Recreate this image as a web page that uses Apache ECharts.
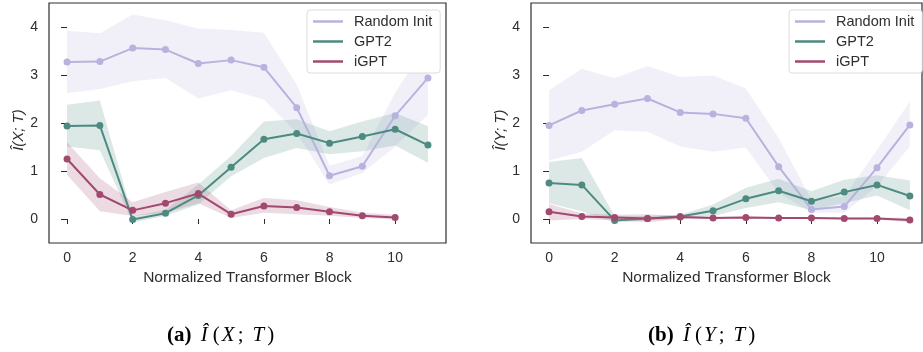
<!DOCTYPE html>
<html lang="en">
<head>
    <meta charset="UTF-8" />
    <title>Information plane per block</title>
    <script src="https://cdn.jsdelivr.net/npm/echarts@6.0.0/dist/echarts.min.js"></script>
    <style>
        body { margin: 0; background: #fff; }
        #chart { width: 923px; height: 352px; }
    </style>
</head>
<body>
    <div id="chart"></div>
    <script>
        // x positions (normalized transformer block)
        const blocks = [0, 1, 2, 3, 4, 5, 6, 7, 8, 9, 10, 11];
        const xTicks = [0, 2, 4, 6, 8, 10];
        const yTicks = [0, 1, 2, 3, 4];

        // (a) I(X;T)
        const xtRandom   = [3.27, 3.28, 3.56, 3.53, 3.24, 3.31, 3.16, 2.32, 0.90, 1.10, 2.15, 2.94];
        const xtRandomHi = [3.92, 3.87, 4.26, 4.14, 3.97, 3.94, 3.88, 2.80, 1.11, 1.31, 2.63, 3.70];
        const xtRandomLo = [2.62, 2.71, 2.87, 2.94, 2.51, 2.68, 2.49, 1.79, 0.72, 0.96, 1.51, 2.17];
        const xtGpt2     = [1.94, 1.95, -0.01, 0.12, 0.49, 1.08, 1.66, 1.78, 1.58, 1.72, 1.87, 1.54];
        const xtGpt2Hi   = [2.38, 2.47, 0.06, 0.19, 0.72, 1.31, 2.03, 2.08, 1.83, 2.03, 2.21, 1.93];
        const xtGpt2Lo   = [1.51, 1.43, -0.08, 0.07, 0.30, 0.89, 1.27, 1.48, 1.35, 1.41, 1.53, 1.17];
        const xtIgpt     = [1.25, 0.51, 0.18, 0.33, 0.53, 0.10, 0.27, 0.24, 0.15, 0.07, 0.03];
        const xtIgptHi   = [1.60, 0.85, 0.35, 0.56, 0.76, 0.18, 0.44, 0.39, 0.25, 0.13, 0.09];
        const xtIgptLo   = [0.92, 0.16, 0.06, 0.13, 0.33, 0.02, 0.13, 0.10, 0.07, 0.02, -0.01];

        // (b) I(Y;T)
        const ytRandom   = [1.95, 2.26, 2.39, 2.51, 2.22, 2.19, 2.10, 1.09, 0.20, 0.26, 1.07, 1.96];
        const ytRandomHi = [2.68, 3.13, 2.93, 3.19, 2.96, 2.99, 2.72, 1.69, 0.40, 0.47, 1.44, 2.45];
        const ytRandomLo = [1.22, 1.40, 1.85, 1.82, 1.51, 1.40, 1.49, 0.54, 0.13, 0.13, 0.68, 1.51];
        const ytGpt2     = [0.75, 0.71, -0.03, 0.01, 0.05, 0.17, 0.42, 0.59, 0.37, 0.56, 0.71, 0.48];
        const ytGpt2Hi   = [1.19, 1.27, 0.06, 0.06, 0.09, 0.30, 0.65, 0.84, 0.58, 0.82, 0.91, 0.80];
        const ytGpt2Lo   = [0.33, 0.16, -0.07, -0.03, 0.00, 0.06, 0.23, 0.35, 0.19, 0.33, 0.49, 0.18];
        const ytIgpt     = [0.15, 0.05, 0.03, 0.01, 0.04, 0.02, 0.03, 0.02, 0.02, 0.01, 0.01, -0.02];
        const ytIgptHi   = [0.31, 0.12, 0.09, 0.10, 0.07, 0.04, 0.05, 0.04, 0.04, 0.03, 0.03, 0.02];
        const ytIgptLo   = [-0.03, 0.00, -0.03, -0.07, 0.00, 0.00, 0.01, 0.00, 0.00, -0.01, -0.01, -0.07];

        const COLORS = { 'Random Init': '#b7b3de', 'GPT2': '#4d8a80', 'iGPT': '#a2496f' };
        const TXT = '#2e2e2e';
        const FONT = '"Liberation Sans", Arial, sans-serif';
        const SERIF = '"Liberation Serif", serif';

        const chart = echarts.init(document.getElementById('chart'));

        function xAxis(idx, max) {
            return {
                type: 'value', gridIndex: idx, min: -0.55, max: max,
                axisLine: { show: false },
                splitLine: { show: false },
                axisTick: { inside: false, length: 5, lineStyle: { color: TXT, width: 1 }, customValues: xTicks },
                axisLabel: { color: TXT, fontSize: 14, fontFamily: FONT, margin: 8, customValues: xTicks },
                name: 'Normalized Transformer Block', nameLocation: 'middle', nameGap: 24,
                nameTextStyle: { color: TXT, fontSize: 15.5, fontFamily: FONT }
            };
        }

        function yAxis(idx, label) {
            return {
                type: 'value', gridIndex: idx, min: -0.5, max: 4.5,
                axisLine: { show: false },
                splitLine: { show: false },
                axisTick: { inside: false, length: 6, lineStyle: { color: TXT, width: 1 }, customValues: yTicks },
                axisLabel: { color: TXT, fontSize: 14, fontFamily: FONT, margin: 11, customValues: yTicks },
                name: label, nameLocation: 'middle', nameGap: 22,
                nameTextStyle: { color: TXT, fontSize: 15, fontFamily: FONT, fontStyle: 'italic', padding: [0, 0, 0, -14] }
            };
        }

        function band(idx, lo, hi, color) {
            return {
                type: 'custom', coordinateSystem: 'cartesian2d',
                xAxisIndex: idx, yAxisIndex: idx, silent: true, z: 1,
                data: [[0, 0]],
                renderItem: (params, api) => {
                    const pts = [];
                    for (let i = 0; i < hi.length; i++) pts.push(api.coord([blocks[i], hi[i]]));
                    for (let i = lo.length - 1; i >= 0; i--) pts.push(api.coord([blocks[i], lo[i]]));
                    return { type: 'polygon', shape: { points: pts }, style: { fill: color, opacity: 0.2 } };
                }
            };
        }

        function line(idx, name, vals, z) {
            return {
                type: 'line', name: name, xAxisIndex: idx, yAxisIndex: idx, z: z,
                data: vals.map((v, i) => [blocks[i], v]),
                symbol: 'circle', symbolSize: 7, showSymbol: true,
                lineStyle: { color: COLORS[name], width: 2 },
                itemStyle: { color: COLORS[name] },
                emphasis: { disabled: true }
            };
        }

        function legend(left) {
            return {
                left: left, top: 10, orient: 'vertical',
                data: ['Random Init', 'GPT2', 'iGPT'],
                icon: 'rect', itemWidth: 30, itemHeight: 2.5, itemGap: 5,
                padding: [4, 8, 4, 6],
                backgroundColor: '#fff', borderColor: '#dcdcdc', borderWidth: 1, borderRadius: 3,
                textStyle: { color: TXT, fontSize: 14.5, fontFamily: FONT, padding: [0, 0, 0, 6] },
                selectedMode: false
            };
        }

        function captionStyle(letter, v) {
            return {
                text: '{b|(' + letter + ')} {h|Î}{p|(}{m|' + v + '}{p|;}{t|T}{p|)}',
                rich: {
                    b: { fontFamily: SERIF, fontWeight: 'bold', fontSize: 21, fill: '#000', padding: [0, 3, 0, 0] },
                    h: { fontFamily: SERIF, fontStyle: 'italic', fontSize: 21, fill: '#000', padding: [0, 5, 0, 3] },
                    m: { fontFamily: SERIF, fontStyle: 'italic', fontSize: 21, fill: '#000', padding: [0, 3, 0, 2] },
                    t: { fontFamily: SERIF, fontStyle: 'italic', fontSize: 21, fill: '#000', padding: [0, 3, 0, 9] },
                    p: { fontFamily: SERIF, fontSize: 21, fill: '#000' }
                }
            };
        }

        const gridStyle = { show: true, borderColor: TXT, borderWidth: 1.2, backgroundColor: 'transparent' };

        chart.setOption({
            animation: false,
            grid: [
                Object.assign({ left: 49, top: 3, width: 397, height: 240 }, gridStyle),
                Object.assign({ left: 531, top: 3, width: 391, height: 240 }, gridStyle)
            ],
            xAxis: [xAxis(0, 11.55), xAxis(1, 11.37)],
            yAxis: [yAxis(0, 'Î(X; T)'), yAxis(1, 'Î(Y; T)')],
            legend: [legend(307), legend(789)],
            series: [
                band(0, xtRandomLo, xtRandomHi, COLORS['Random Init']),
                band(0, xtGpt2Lo, xtGpt2Hi, COLORS['GPT2']),
                band(0, xtIgptLo, xtIgptHi, COLORS['iGPT']),
                line(0, 'Random Init', xtRandom, 3),
                line(0, 'GPT2', xtGpt2, 4),
                line(0, 'iGPT', xtIgpt, 5),
                band(1, ytRandomLo, ytRandomHi, COLORS['Random Init']),
                band(1, ytGpt2Lo, ytGpt2Hi, COLORS['GPT2']),
                band(1, ytIgptLo, ytIgptHi, COLORS['iGPT']),
                line(1, 'Random Init', ytRandom, 3),
                line(1, 'GPT2', ytGpt2, 4),
                line(1, 'iGPT', ytIgpt, 5)
            ],
            graphic: [
                { type: 'text', left: 167, top: 325, style: captionStyle('a', 'X') },
                { type: 'text', left: 648, top: 325, style: captionStyle('b', 'Y') }
            ]
        });
    </script>
</body>
</html>
